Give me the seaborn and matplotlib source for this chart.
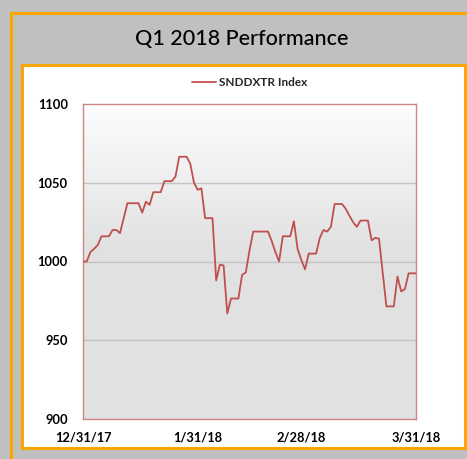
import numpy as np
import pandas as pd
import matplotlib
matplotlib.use("Agg")
import matplotlib.pyplot as plt
from matplotlib.patches import Rectangle
from matplotlib.colors import LinearSegmentedColormap
import seaborn as sns

# Daily closing levels (weekends/holidays carry the prior close)
start_date = "2017-12-31"
index_values = [
    1000, 1000, 1006, 1008, 1010.5, 1016, 1016, 1016, 1020, 1020,     # Dec 31 - Jan 9
    1018, 1027.5, 1037, 1037, 1037, 1037, 1031, 1038, 1036, 1044,     # Jan 10 - Jan 19
    1044, 1044, 1051, 1051, 1051, 1054, 1066.5, 1066.5, 1066.5, 1062, # Jan 20 - Jan 29
    1050, 1045.5, 1046.5, 1027.5, 1027.5, 1027.5, 988, 998, 997.5, 967, # Jan 30 - Feb 8
    976.5, 976.5, 976.5, 991.5, 993, 1007, 1019, 1019, 1019, 1019,   # Feb 9 - Feb 18
    1019, 1013, 1006, 1000, 1016, 1016, 1016, 1025.5, 1008, 1001,    # Feb 19 - Feb 28
    995, 1005, 1005, 1005, 1015, 1020, 1019, 1022, 1036.5, 1036.5,   # Mar 1 - Mar 10
    1036.5, 1033.5, 1029, 1025, 1022, 1026, 1026, 1026, 1013.5, 1015, # Mar 11 - Mar 20
    1014.5, 993, 971.5, 971.5, 971.5, 990.5, 981, 982.5, 992.5, 992.5, # Mar 21 - Mar 30
    992.5,                                                            # Mar 31
]
series_name = "SNDDXTR Index"
title_text = "Q1 2018 Performance"
tick_dates = ["2017-12-31", "2018-01-31", "2018-02-28", "2018-03-31"]
tick_labels = ["12/31/17", "1/31/18", "2/28/18", "3/31/18"]
y_ticks = [900, 950, 1000, 1050, 1100]

dates = pd.date_range(start_date, periods=len(index_values), freq="D")
df = pd.DataFrame({"Date": dates, series_name: index_values})

ORANGE = "#f9a602"
GRAY_BG = "#c0c0c0"
LINE_RED = "#c0504d"
FONT = ["Lato", "DejaVu Sans"]

sns.set_style("white")
plt.rcParams["font.family"] = FONT

W, H = 467, 459
fig = plt.figure(figsize=(W / 100, H / 100), dpi=100)
fig.patch.set_facecolor(GRAY_BG)

def px_rect(x0, y0, x1, y1, **kw):
    # rectangle given in pixel coords with origin at top-left
    return Rectangle((x0 / W, 1 - y1 / H), (x1 - x0) / W, (y1 - y0) / H,
                     transform=fig.transFigure, zorder=-10, **kw)

# outer frame and inner white panel
fig.patches.append(px_rect(11, 13, 480, 480, facecolor=GRAY_BG,
                           edgecolor=ORANGE, linewidth=2.2))
fig.patches.append(px_rect(22, 65, 465, 448, facecolor="white",
                           edgecolor=ORANGE, linewidth=2.2))

fig.text(242 / W, 1 - 39 / H, title_text, ha="center", va="center",
         fontsize=15.5, color="black", family=FONT, fontweight="medium")

ax = fig.add_axes([83 / W, 1 - 419 / H, (416 - 83) / W, (419 - 104) / H])
ax.set_zorder(5)

# vertical gradient backdrop: white at the top fading to light gray
grad_cmap = LinearSegmentedColormap.from_list(
    "bg", [(0.0, "#e1e1e1"), (0.55, "#e2e2e2"), (1.0, "#fdfdfd")])
grad = np.linspace(0, 1, 256).reshape(-1, 1)
ax.imshow(grad, extent=[0, 1, 0, 1], transform=ax.transAxes, origin="lower",
          aspect="auto", cmap=grad_cmap, zorder=0)

for yv in y_ticks[1:-1]:
    ax.axhline(yv, color="#c4c4c4", linewidth=1.0, zorder=1)

sns.lineplot(data=df, x="Date", y=series_name, ax=ax, color=LINE_RED,
             linewidth=1.3, label=series_name, zorder=3)

ax.set_xlim(pd.Timestamp(tick_dates[0]), pd.Timestamp(tick_dates[-1]))
ax.set_ylim(y_ticks[0], y_ticks[-1])
ax.set_xticks([pd.Timestamp(d) for d in tick_dates])
ax.set_xticklabels(tick_labels)
ax.set_yticks(y_ticks)
ax.set_yticklabels([str(v) for v in y_ticks])
ax.set_xlabel("")
ax.set_ylabel("")
ax.tick_params(axis="both", length=0, labelsize=9.3, colors="black")
ax.tick_params(axis="y", pad=11)
ax.tick_params(axis="x", pad=9)
for lbl in ax.get_xticklabels() + ax.get_yticklabels():
    lbl.set_fontweight("bold")
for sp in ax.spines.values():
    sp.set_color("#d08585")
    sp.set_linewidth(1.0)
    sp.set_visible(True)

leg = ax.legend(loc="lower center", bbox_to_anchor=(0.5, 1.035), frameon=False,
                fontsize=8.5, handlelength=2.0, handletextpad=0.25,
                borderaxespad=0)
for t in leg.get_texts():
    t.set_fontweight("bold")

fig.savefig("out.png", dpi=100, facecolor=fig.get_facecolor())
